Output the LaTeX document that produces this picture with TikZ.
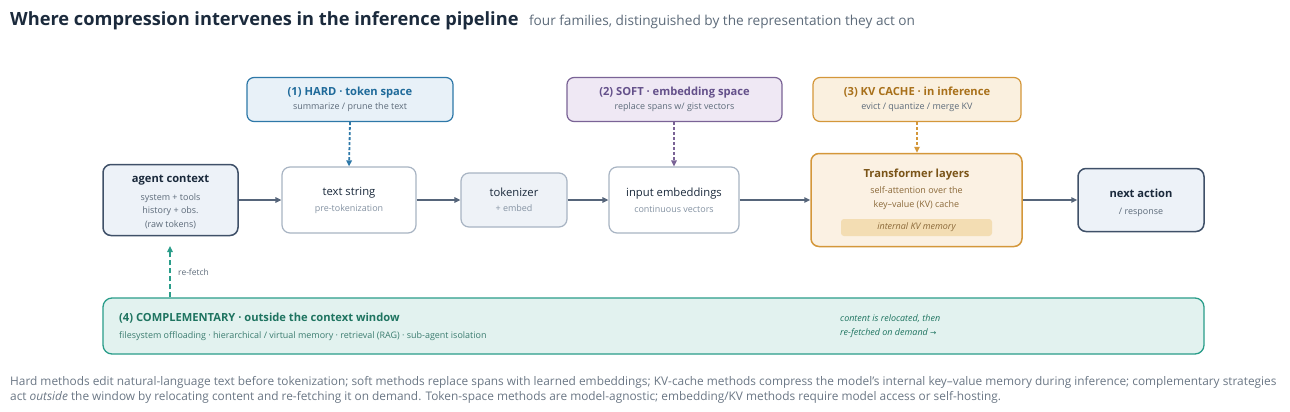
\documentclass[tikz,border=0pt]{standalone}
\usepackage{fontspec}
\setmainfont{Open Sans}
\newfontfamily\arrowfont{DejaVu Sans}
\usepackage{xcolor}
\usetikzlibrary{arrows.meta}

\definecolor{ink}{HTML}{1B2A3C}
\definecolor{muted}{HTML}{5D6B7A}
\definecolor{faint}{HTML}{8593A3}
\definecolor{wire}{HTML}{56657A}
\definecolor{slate}{HTML}{3F5068}
\definecolor{slatefill}{HTML}{EDF2F8}
\definecolor{pale}{HTML}{A8B4C3}
\definecolor{palefill}{HTML}{EEF2F7}
\definecolor{hardline}{HTML}{2E78A8}
\definecolor{hardfill}{HTML}{E8F1F8}
\definecolor{hardtext}{HTML}{1F6A9A}
\definecolor{softline}{HTML}{7A6396}
\definecolor{softfill}{HTML}{EFE8F4}
\definecolor{softtext}{HTML}{64508A}
\definecolor{kvline}{HTML}{D4973A}
\definecolor{kvfill}{HTML}{FAF0DF}
\definecolor{kvtext}{HTML}{A8701A}
\definecolor{trfill}{HTML}{FBF1E3}
\definecolor{trtext}{HTML}{7A5418}
\definecolor{trsub}{HTML}{8C6A3A}
\definecolor{pillfill}{HTML}{F3DDB3}
\definecolor{teal}{HTML}{2A9D8A}
\definecolor{tealfill}{HTML}{E2F2EF}
\definecolor{tealtext}{HTML}{1E7460}
\definecolor{tealsub}{HTML}{3C7D70}
\definecolor{note}{HTML}{6B7785}

\begin{document}
\begin{tikzpicture}[x=1bp, y=-1bp,
        family/.style={draw, line width=1.2bp, rounded corners=7bp, minimum height=44bp, align=center, inner sep=0pt, font=\fontsize{9}{12}\selectfont, text=muted},
        endbox/.style={draw=slate, fill=slatefill, line width=1.5bp, rounded corners=8bp, inner sep=0pt},
        stage/.style={draw=pale, fill=white, line width=1.2bp, rounded corners=8bp, align=center, inner sep=0pt, font=\fontsize{9}{12}\selectfont, text=faint},
        boxtext/.style={align=center, inner sep=0pt, text=muted, font=\fontsize{9}{13.5}\selectfont},
        flow/.style={-{Triangle[length=6bp, width=5.5bp]}, line width=1.7bp, wire},
        inject/.style={-{Triangle[length=6bp, width=5.5bp]}, line width=1.8bp, dash pattern=on 3bp off 2bp}
    ]
        \fill[white] (0,0) rectangle (1290,411);
        \useasboundingbox (0,0) rectangle (1290,411);

        \node[anchor=base west, inner sep=0pt, text=ink, font=\fontsize{18.3}{22}\selectfont\bfseries] (title) at (10,25) {Where compression intervenes in the inference pipeline};
        \node[anchor=base west, inner sep=0pt, text=muted, font=\fontsize{13.7}{16}\selectfont] (subtitle) at ([xshift=10bp]title.base east) {four families, distinguished by the representation they act on};

        \node[family, draw=hardline, fill=hardfill, minimum width=206bp] (hard) at (350,99.5) {{\color{hardtext}\fontsize{11.2}{13}\selectfont\bfseries (1) HARD · token space}\\[2.5pt] summarize / prune the text};
        \node[family, draw=softline, fill=softfill, minimum width=215bp] (soft) at (674.5,99.5) {{\color{softtext}\fontsize{11.2}{13}\selectfont\bfseries (2) SOFT · embedding space}\\[2.5pt] replace spans w/ gist vectors};
        \node[family, draw=kvline, fill=kvfill, minimum width=208bp] (kv) at (917,99.5) {{\color{kvtext}\fontsize{11.2}{13}\selectfont\bfseries (3) KV CACHE · in inference}\\[2.5pt] evict / quantize / merge KV};

        \node[endbox, minimum width=135bp, minimum height=71bp] (agent) at (170.5,200) {};
        \node[boxtext] (agentlabel) at (170.5,202) {{\color{ink}\fontsize{11.2}{13}\selectfont\bfseries agent context}\\[4.5pt] system + tools\\ history + obs.\\ (raw tokens)};
        \node[stage, minimum width=134bp, minimum height=66bp] (text) at (349,200) {{\color{ink}\fontsize{11.3}{13}\selectfont text string}\\[4pt] pre-tokenization};
        \node[stage, fill=palefill, minimum width=106bp, minimum height=54bp] (tok) at (514,200) {{\color{ink}\fontsize{11.3}{13}\selectfont tokenizer}\\[3pt] + embed};
        \node[stage, minimum width=130bp, minimum height=66bp] (emb) at (674,200) {{\color{ink}\fontsize{11.3}{13}\selectfont input embeddings}\\[4pt] continuous vectors};

        \node[draw=kvline, fill=trfill, line width=1.5bp, rounded corners=8bp, minimum width=211bp, minimum height=93bp] (trans) at (916.5,200) {};
        \node[boxtext, text=trsub, font=\fontsize{9}{14}\selectfont] (translabel) at (916.5,189.5) {{\color{trtext}\fontsize{11.2}{13}\selectfont\bfseries Transformer layers}\\[2.5pt] self-attention over the\\ key–value (KV) cache};
        \node[fill=pillfill, rounded corners=3bp, minimum width=151bp, minimum height=17bp, inner sep=0pt, text=trsub, font=\fontsize{9}{10}\selectfont\itshape] (kvmem) at (916.5,227.5) {internal KV memory};

        \node[endbox, minimum width=126bp, minimum height=63bp] (next) at (1141,200) {};
        \node[boxtext] (nextlabel) at (1141,203) {{\color{ink}\fontsize{11.2}{13}\selectfont\bfseries next action}\\[3.5pt] / response};

        \node[draw=teal, fill=tealfill, line width=1.3bp, rounded corners=9bp, minimum width=1101bp, minimum height=56bp] (comp) at (653.5,326) {};
        \node[anchor=west, align=left, inner sep=0pt, text=tealsub, font=\fontsize{9}{13}\selectfont] (complabel) at (119,327) {{\color{tealtext}\fontsize{11.2}{13}\selectfont\bfseries (4) COMPLEMENTARY · outside the context window}\\[4.5pt] filesystem offloading · hierarchical / virtual memory · retrieval (RAG) · sub-agent isolation};
        \node[anchor=west, align=left, inner sep=0pt, text=tealtext, font=\fontsize{9}{14}\selectfont\itshape] (compnote) at (840,326.5) {content is relocated, then\\ re-fetched on demand {\upshape\arrowfont\fontsize{7.5}{8}\selectfont →}};

        \draw[flow] (agent.east) -- (text.west);
        \draw[flow] (text.east) -- (tok.west);
        \draw[flow] (tok.east) -- (emb.west);
        \draw[flow] (emb.east) -- (trans.west);
        \draw[flow] (trans.east) -- (next.west);

        \draw[inject, hardline] (hard.south) -- (text.north);
        \draw[inject, softline] (emb.north |- soft.south) -- (emb.north);
        \draw[inject, kvline] (kv.south) -- (kv.south |- trans.north);

        \coordinate (fetchtip) at (170,246);
        \draw[inject, teal, dash pattern=on 5bp off 3bp] (fetchtip |- comp.north) -- node[right, xshift=4bp, yshift=-1bp, text=muted, font=\fontsize{8.5}{10}\selectfont] (refetch) {re-fetch} (fetchtip);

        \node[anchor=base west, align=left, inner sep=0pt, text=note, font=\fontsize{11.9}{15}\selectfont] (caption) at (10,400) {Hard methods edit natural-language text before tokenization; soft methods replace spans with learned embeddings; KV-cache methods compress the model's internal key–value memory during inference; complementary strategies\\ act \textit{outside} the window by relocating content and re-fetching it on demand. Token-space methods are model-agnostic; embedding/KV methods require model access or self-hosting.};
    \end{tikzpicture}
\end{document}
